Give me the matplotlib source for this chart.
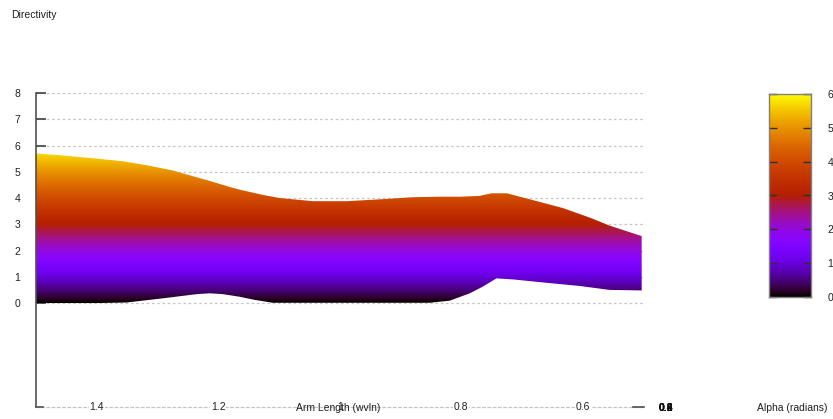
import matplotlib.pyplot as plt
import numpy as np
from matplotlib.patches import Polygon

plt.rcParams['font.family'] = ['Liberation Sans', 'DejaVu Sans']

# upper envelope of the surface (arm length, directivity)
top_arm = [1.502, 1.455, 1.40, 1.357, 1.318, 1.275, 1.240, 1.214, 1.181, 1.165, 1.127,
           1.099, 1.044, 0.988, 0.934, 0.880, 0.835, 0.802, 0.770, 0.750, 0.725,
           0.687, 0.633, 0.588, 0.556, 0.503]
top_dir = [5.70, 5.62, 5.50, 5.40, 5.25, 5.05, 4.82, 4.65, 4.42, 4.32, 4.12,
           4.00, 3.88, 3.88, 3.95, 4.03, 4.05, 4.05, 4.08, 4.18, 4.18,
           3.95, 3.62, 3.25, 2.95, 2.55]
# lower envelope
bot_arm = [1.502, 1.40, 1.351, 1.291, 1.235, 1.214, 1.193, 1.165, 1.140, 1.110,
           0.852, 0.819, 0.786, 0.765, 0.742, 0.715, 0.659, 0.605, 0.556, 0.503]
bot_dir = [0.0, 0.0, 0.02, 0.18, 0.34, 0.37, 0.34, 0.24, 0.12, 0.01,
           0.01, 0.09, 0.37, 0.62, 0.94, 0.90, 0.77, 0.65, 0.50, 0.48]

x_ticks = [1.4, 1.2, 1.0, 0.8, 0.6]
y_ticks = [0, 1, 2, 3, 4, 5, 6, 7, 8]
cb_ticks = [0, 1, 2, 3, 4, 5, 6]
alpha_ticks = ['0.2', '0.4', '0.6', '0.8']

W, H = 833, 419
fig = plt.figure(figsize=(W / 100, H / 100), dpi=100)
ax = fig.add_axes([36 / W, 12 / H, 607.5 / W, 314 / H])
ax.set_xlim(1.5, 0.5)
ax.set_ylim(-3.96, 8)

# dotted grid behind the surface
for v in y_ticks:
    ax.axhline(v, color='#c4c4c4', lw=0.9, ls=(0, (2, 2.2)), zorder=1)

# surface seen edge-on: gradient coloured by directivity, clipped to envelope
verts = np.column_stack([top_arm + bot_arm[::-1], top_dir + bot_dir[::-1]])
patch = Polygon(verts, closed=True, facecolor='none', edgecolor='none')
ax.add_patch(patch)
grad = np.linspace(-0.05, 6, 500)[:, None] * np.ones((1, 2))
im = ax.imshow(grad, extent=(1.502, 0.5, -0.05, 6), origin='lower', cmap='gnuplot',
               vmin=0, vmax=6, aspect='auto', interpolation='bilinear', zorder=2)
im.set_clip_path(patch)

for s in ['top', 'right']:
    ax.spines[s].set_visible(False)
ax.spines['left'].set_color('#505050')
ax.spines['left'].set_linewidth(1.2)
ax.spines['bottom'].set_color('#c4c4c4')
ax.spines['bottom'].set_linestyle((0, (2, 2.2)))
ax.spines['bottom'].set_linewidth(0.9)

ax.set_yticks(y_ticks)
ax.set_yticklabels([str(v) for v in y_ticks])
ax.tick_params(axis='y', direction='in', length=7, width=1.2, color='#404040',
               pad=11.5, labelsize=7.5, labelcolor='#202020')
ax.set_xticks([])

# corner pieces of the 3D border
ax.plot([0, 0.012], [0, 0], transform=ax.transAxes, color='#505050', lw=1.2,
        clip_on=False, zorder=5)
ax.plot([0.982, 1.0], [0, 0], transform=ax.transAxes, color='#505050', lw=1.2,
        clip_on=False, zorder=5)

# x tick labels sit on the base line
xt = ax.get_xaxis_transform()
for v in x_ticks:
    lab = '1' if v == 1.0 else f'{v:.1f}'
    ax.text(v, 0, lab, transform=xt, ha='center', va='center', fontsize=7.5,
            color='#202020', bbox=dict(fc='white', ec='none', pad=0.6), zorder=6)
ax.text(338 / W, 11 / H, 'Arm Length (wvln)', transform=fig.transFigure, ha='center',
        va='center', fontsize=7.5, color='#202020', zorder=7)

# alpha axis seen end-on: its labels all land on one spot
for lab in alpha_ticks:
    fig.text(666 / W, 11 / H, lab, ha='center', va='center', fontsize=7.5,
             color='#101010', fontweight='bold')
fig.text(792 / W, 11 / H, 'Alpha (radians)', ha='center', va='center', fontsize=7.5,
         color='#202020')

fig.text(11 / W, 1 - 15 / H, 'Directivity', ha='left', va='center', fontsize=7.5,
         color='#202020')

# colour box
cax = fig.add_axes([769 / W, 122 / H, 42 / W, 203 / H])
cax.imshow(np.linspace(0, 6, 300)[:, None], extent=(0, 1, 0, 6), origin='lower',
           cmap='gnuplot', vmin=0, vmax=6, aspect='auto')
cax.set_xlim(0, 1)
cax.set_ylim(0, 6)
cax.set_xticks([])
cax.set_yticks(cb_ticks)
cax.set_yticklabels([str(v) for v in cb_ticks])
cax.yaxis.tick_right()
cax.tick_params(axis='y', direction='in', left=True, right=True, length=6, width=1,
                color='#303030', pad=12, labelsize=7.5, labelcolor='#202020')
for s in cax.spines.values():
    s.set_color('#808080')
    s.set_linewidth(1)

fig.savefig('out.png', dpi=100)
